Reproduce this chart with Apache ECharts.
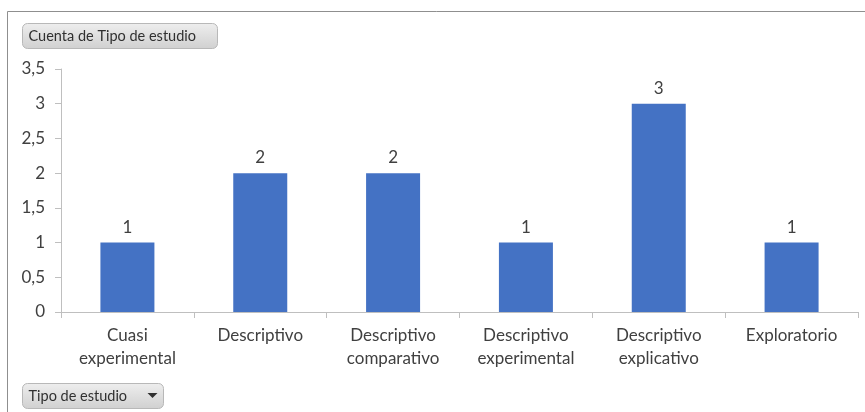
<!DOCTYPE html>
<html>
<head>
<meta charset="utf-8">
<script src="https://cdn.jsdelivr.net/npm/echarts@6/dist/echarts.min.js"></script>
<style>
  html, body { margin: 0; padding: 0; background: #ffffff; }
  #chart { width: 865px; height: 412px; }
</style>
</head>
<body>
<div id="chart"></div>
<script>
// Study types and how many studies fall into each one
const categories = [
  'Cuasi\nexperimental',
  'Descriptivo',
  'Descriptivo\ncomparativo',
  'Descriptivo\nexperimental',
  'Descriptivo\nexplicativo',
  'Exploratorio'
];
const counts = [1, 2, 2, 1, 3, 1];
const yTicks = { min: 0, max: 3.5, interval: 0.5 };

const FONT = 'Lato, "Open Sans", "DejaVu Sans", sans-serif';
const TEXT = '#404040';
const AXIS = '#bfbfbf';

// Excel-style pivot field button
function fieldButton(x, y, w, h, label, withArrow) {
  const children = [
    {
      type: 'rect',
      shape: { x: 0, y: 0, width: w, height: h, r: 5 },
      style: {
        fill: new echarts.graphic.LinearGradient(0, 0, 0, 1, [
          { offset: 0, color: '#eeeeee' },
          { offset: 1, color: '#d0d0d0' }
        ]),
        stroke: '#b8b8b8',
        lineWidth: 1
      }
    },
    {
      type: 'text',
      style: {
        text: label, x: 6, y: h / 2,
        verticalAlign: 'middle',
        font: '14.5px ' + FONT,
        fill: '#303030'
      }
    }
  ];
  if (withArrow) {
    children.push({
      type: 'polygon',
      shape: { points: [[w - 16, h / 2 - 3], [w - 6, h / 2 - 3], [w - 11, h / 2 + 2]] },
      style: { fill: '#303030' }
    });
  }
  return { type: 'group', x: x, y: y, children: children };
}

const chart = echarts.init(document.getElementById('chart'), null, { renderer: 'canvas' });

chart.setOption({
  animation: false,
  backgroundColor: '#ffffff',
  grid: { left: 61, right: 7, top: 69, bottom: 100, containLabel: false },
  xAxis: {
    type: 'category',
    data: categories,
    axisLine: { lineStyle: { color: AXIS, width: 1 } },
    axisTick: { show: true, length: 6, interval: 0, alignWithLabel: false, lineStyle: { color: AXIS } },
    axisLabel: {
      interval: 0,
      margin: 12,
      color: TEXT,
      fontFamily: FONT,
      fontSize: 17,
      lineHeight: 23
    },
    splitLine: { show: false }
  },
  yAxis: {
    type: 'value',
    min: yTicks.min,
    max: yTicks.max,
    interval: yTicks.interval,
    axisLine: { show: true, lineStyle: { color: AXIS, width: 1 } },
    axisTick: { show: true, length: 6, lineStyle: { color: AXIS } },
    splitLine: { show: false },
    axisLabel: {
      margin: 16,
      color: TEXT,
      fontFamily: FONT,
      fontSize: 17,
      formatter: v => String(v).replace('.', ',')
    }
  },
  series: [{
    type: 'bar',
    data: counts,
    barWidth: 54,
    itemStyle: { color: '#4472c4' },
    label: {
      show: true,
      position: 'top',
      distance: 7,
      color: TEXT,
      fontFamily: FONT,
      fontSize: 17
    }
  }],
  graphic: [
    {
      type: 'polyline',
      shape: { points: [[7.5, 412], [7.5, 11.5], [865, 11.5]] },
      style: { stroke: '#8f8f8f', lineWidth: 1, fill: null }
    },
    fieldButton(22.5, 23.5, 195, 25, 'Cuenta de Tipo de estudio', false),
    fieldButton(22.5, 383.5, 141, 25, 'Tipo de estudio', true)
  ]
});
</script>
</body>
</html>
